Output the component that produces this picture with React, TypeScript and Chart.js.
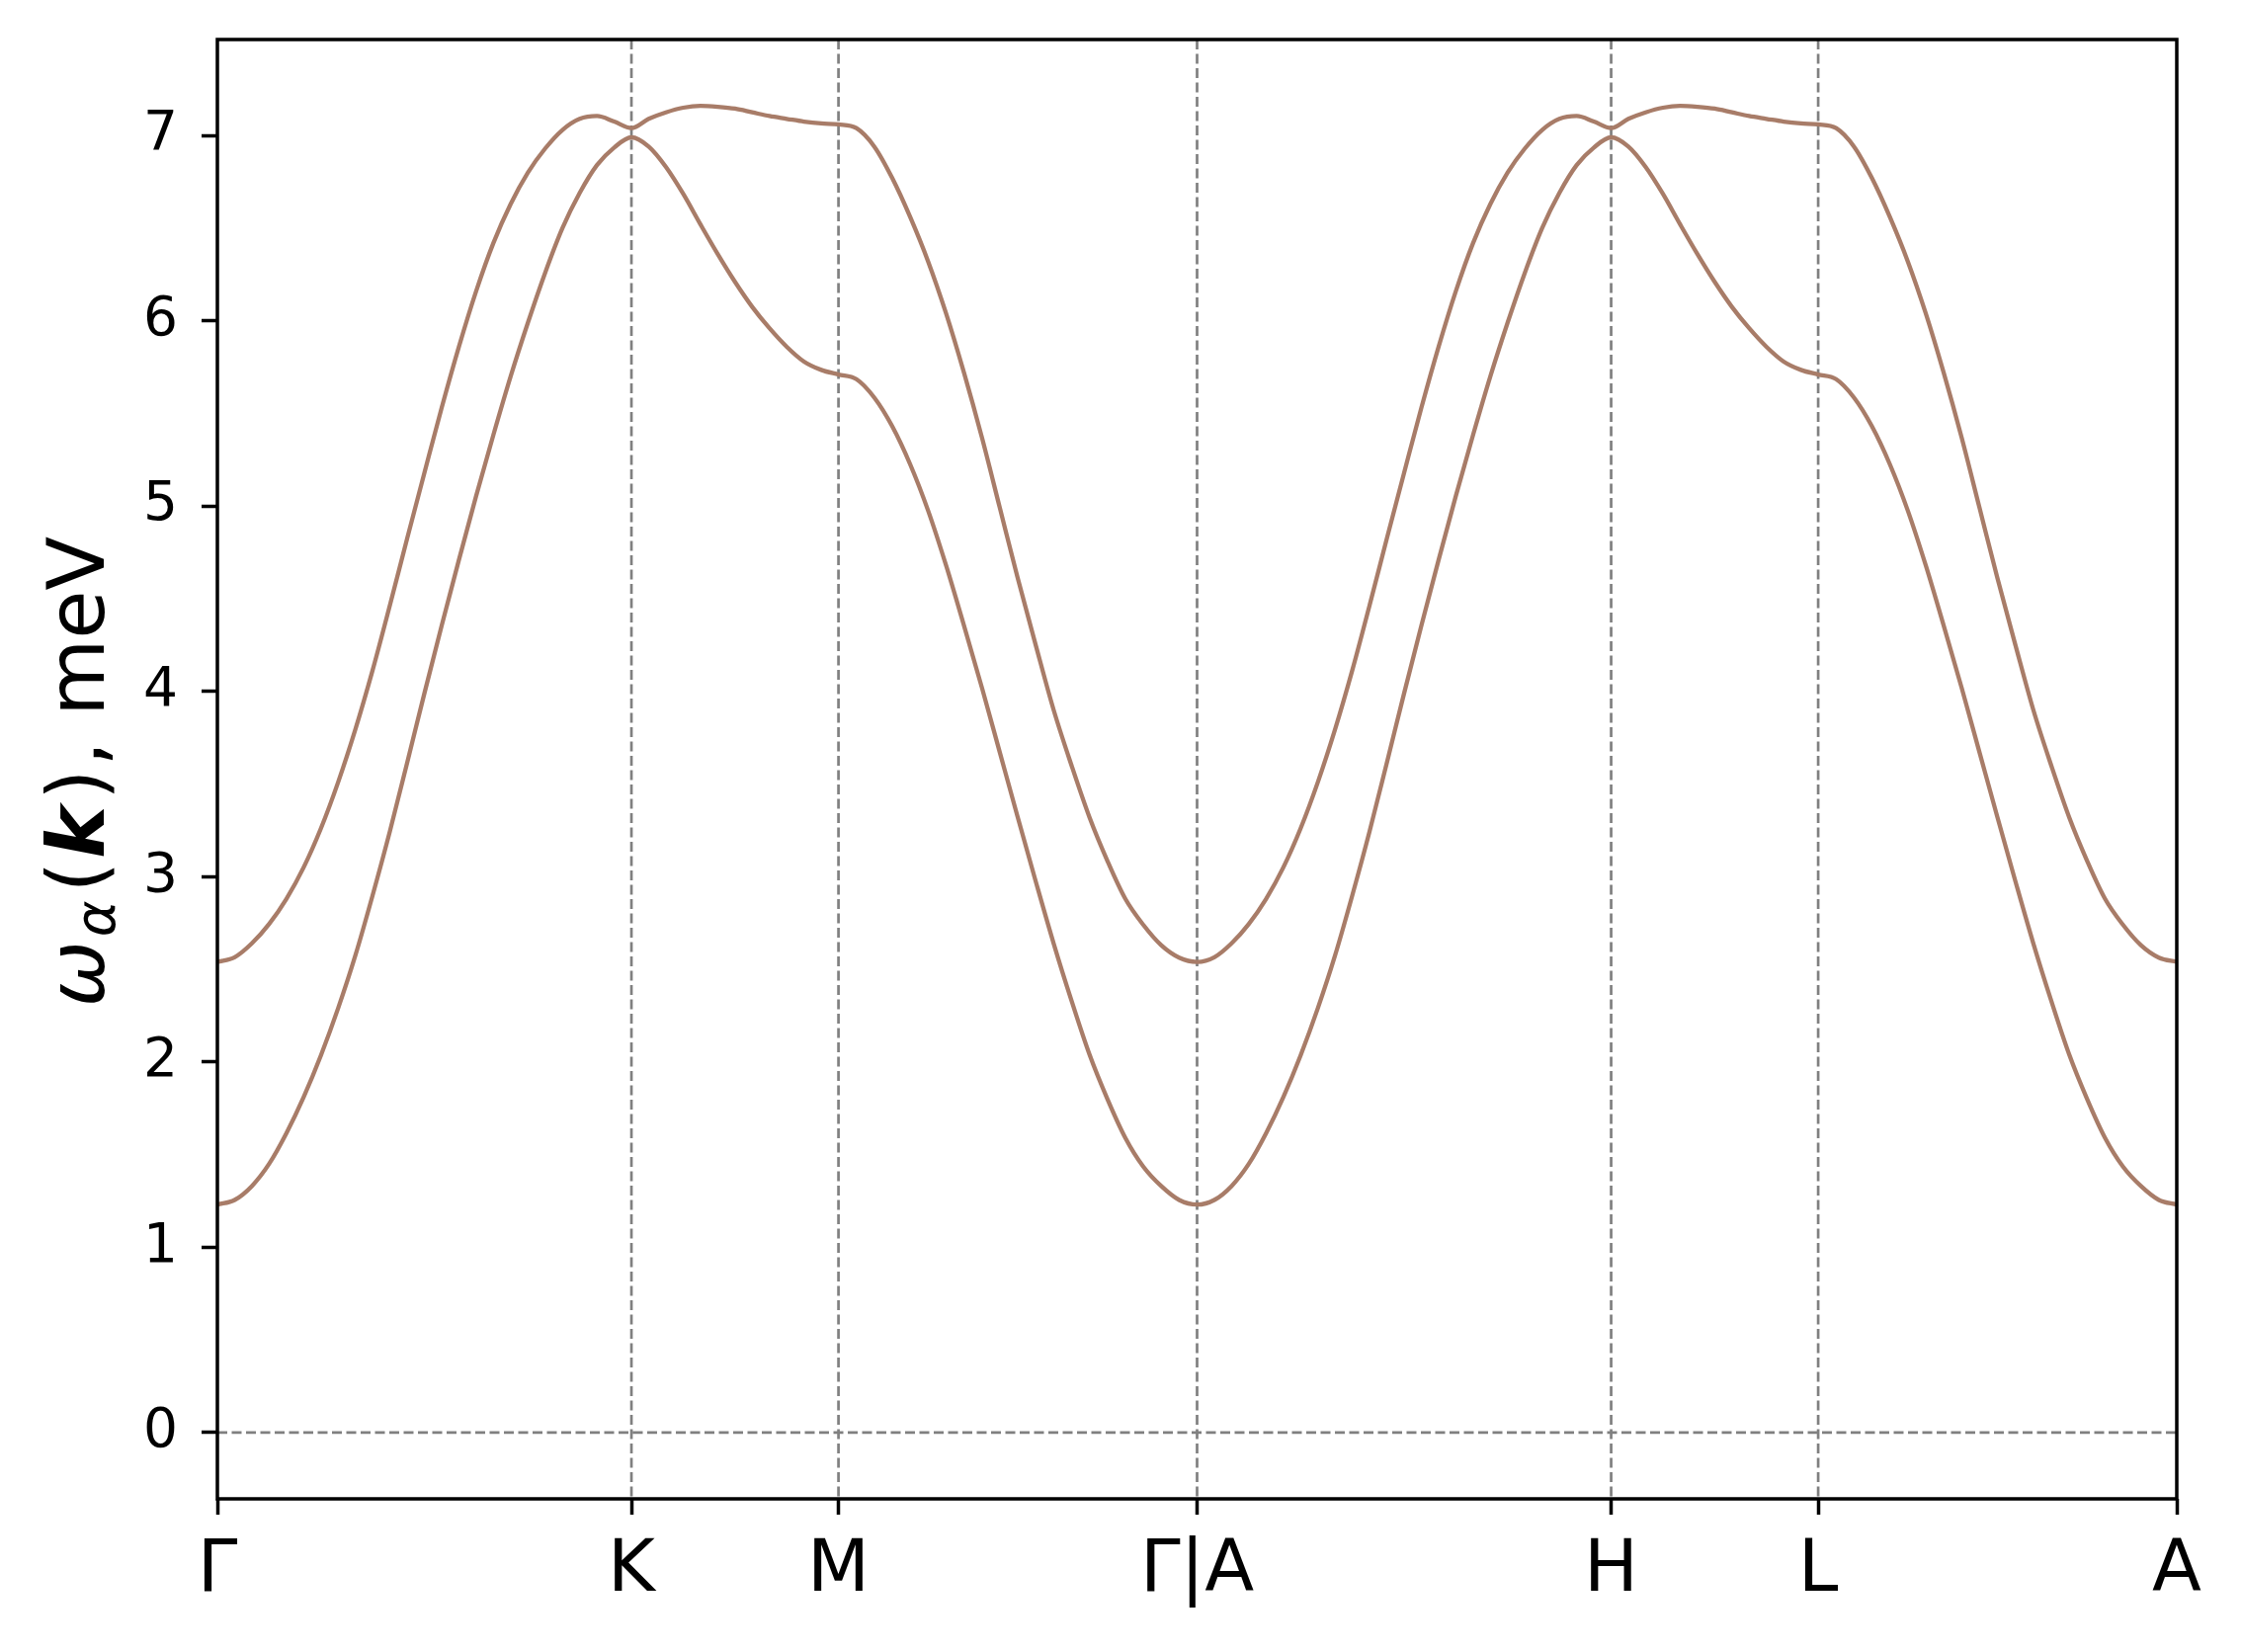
import React, { useEffect, useRef } from 'react';
import { Chart, registerables } from 'chart.js';

Chart.register(...registerables);

// High-symmetry path positions (cumulative path length) and labels
const symPositions = [0, 1.3333, 2.0, 3.1547, 4.488, 5.1547, 6.3094];
const symLabels = ['Γ', 'K', 'M', 'Γ|A', 'H', 'L', 'A'];
const yTickValues = [0, 1, 2, 3, 4, 5, 6, 7];

// Path coordinate, first half  Γ – K – M – Γ
const pathFirst = [
  0, 0.0556, 0.1111, 0.1667, 0.2222, 0.2778, 0.3333, 0.3889, 0.4444, 0.5, 0.5556, 0.6111, 0.6667,
  0.7222, 0.7778, 0.8333, 0.8889, 0.9444, 1.0, 1.0556, 1.1111, 1.1667, 1.2222, 1.2778, 1.3333,
  1.3889, 1.4444, 1.5, 1.5556, 1.6111, 1.6667, 1.7222, 1.7778, 1.8333, 1.8889, 1.9444, 2.0,
  2.0577, 2.1155, 2.1732, 2.2309, 2.2887, 2.3464, 2.4041, 2.4619, 2.5196, 2.5773, 2.6351, 2.6928,
  2.7505, 2.8083, 2.866, 2.9238, 2.9815, 3.0392, 3.097, 3.1547,
];
// Path coordinate, second half  A – H – L – A
const pathSecond = [
  3.2103, 3.2658, 3.3214, 3.3769, 3.4325, 3.488, 3.5436, 3.5991, 3.6547, 3.7103, 3.7658, 3.8214,
  3.8769, 3.9325, 3.988, 4.0436, 4.0991, 4.1547, 4.2103, 4.2658, 4.3214, 4.3769, 4.4325, 4.488,
  4.5436, 4.5991, 4.6547, 4.7103, 4.7658, 4.8214, 4.8769, 4.9325, 4.988, 5.0436, 5.0991, 5.1547,
  5.2124, 5.2702, 5.3279, 5.3856, 5.4434, 5.5011, 5.5588, 5.6166, 5.6743, 5.732, 5.7898, 5.8475,
  5.9052, 5.963, 6.0207, 6.0785, 6.1362, 6.1939, 6.2517, 6.3094,
];

// Upper magnon band (meV)
const upperFirst = [
  2.54, 2.565, 2.64, 2.745, 2.88, 3.05, 3.26, 3.51, 3.795, 4.115, 4.465, 4.825, 5.18,
  5.53, 5.86, 6.16, 6.42, 6.63, 6.8, 6.93, 7.03, 7.09, 7.105, 7.075, 7.04,
  7.09, 7.125, 7.15, 7.16, 7.155, 7.145, 7.125, 7.105, 7.09, 7.075, 7.065, 7.06,
  7.04, 6.94, 6.77, 6.56, 6.32, 6.04, 5.72, 5.37, 4.99, 4.61, 4.25, 3.9,
  3.6, 3.32, 3.085, 2.88, 2.74, 2.63, 2.563, 2.54,
];
const upperSecond = [
  2.565, 2.64, 2.745, 2.88, 3.05, 3.26, 3.51, 3.795, 4.115, 4.465, 4.825, 5.18,
  5.53, 5.86, 6.16, 6.42, 6.63, 6.8, 6.93, 7.03, 7.09, 7.105, 7.075, 7.04,
  7.09, 7.125, 7.15, 7.16, 7.155, 7.145, 7.125, 7.105, 7.09, 7.075, 7.065, 7.06,
  7.04, 6.94, 6.77, 6.56, 6.32, 6.04, 5.72, 5.37, 4.99, 4.61, 4.25, 3.9,
  3.6, 3.32, 3.085, 2.88, 2.74, 2.63, 2.563, 2.54,
];

// Lower magnon band (meV)
const lowerFirst = [
  1.23, 1.255, 1.33, 1.45, 1.615, 1.81, 2.035, 2.29, 2.575, 2.9, 3.245, 3.615, 3.99,
  4.355, 4.71, 5.055, 5.385, 5.7, 5.99, 6.26, 6.5, 6.69, 6.84, 6.935, 6.99,
  6.94, 6.83, 6.685, 6.52, 6.36, 6.21, 6.075, 5.96, 5.86, 5.78, 5.735, 5.71,
  5.685, 5.585, 5.43, 5.225, 4.975, 4.68, 4.355, 4.02, 3.67, 3.32, 2.975, 2.64,
  2.33, 2.04, 1.8, 1.59, 1.435, 1.33, 1.255, 1.23,
];
const lowerSecond = [
  1.255, 1.33, 1.45, 1.615, 1.81, 2.035, 2.29, 2.575, 2.9, 3.245, 3.615, 3.99,
  4.355, 4.71, 5.055, 5.385, 5.7, 5.99, 6.26, 6.5, 6.69, 6.84, 6.935, 6.99,
  6.94, 6.83, 6.685, 6.52, 6.36, 6.21, 6.075, 5.96, 5.86, 5.78, 5.735, 5.71,
  5.685, 5.585, 5.43, 5.225, 4.975, 4.68, 4.355, 4.02, 3.67, 3.32, 2.975, 2.64,
  2.33, 2.04, 1.8, 1.59, 1.435, 1.33, 1.255, 1.23,
];

const LINE_COLOR = '#a87c68';
const FONT = '"DejaVu Sans", "Liberation Sans", sans-serif';

const guidePlugin = {
  id: 'guides',
  beforeDatasetsDraw(chart: any) {
    const { ctx, chartArea, scales } = chart;
    const { left, right, top, bottom } = chartArea;
    ctx.save();
    ctx.strokeStyle = '#808080';
    ctx.lineWidth = 2.7;
    ctx.setLineDash([10, 4.5]);
    ctx.beginPath();
    symPositions.slice(1, -1).forEach((p) => {
      const px = scales.x.getPixelForValue(p);
      ctx.moveTo(px, top);
      ctx.lineTo(px, bottom);
    });
    const y0 = scales.y.getPixelForValue(0);
    ctx.moveTo(left, y0);
    ctx.lineTo(right, y0);
    ctx.stroke();
    ctx.restore();
  },
  afterDraw(chart: any) {
    const { ctx, chartArea } = chart;
    const { left, right, top, bottom } = chartArea;
    ctx.save();
    ctx.strokeStyle = '#000';
    ctx.lineWidth = 3.5;
    ctx.setLineDash([]);
    ctx.strokeRect(left, top, right - left, bottom - top);
    ctx.restore();
  },
};

const yLabelPlugin = {
  id: 'ylabel',
  afterDraw(chart: any) {
    const ctx = chart.ctx;
    const size = 80;
    const segs = [
      { t: 'ω', font: `italic ${size}px ${FONT}`, dy: 0, gap: 4 },
      { t: 'α', font: `italic ${Math.round(size * 0.7)}px ${FONT}`, dy: size * 0.14, gap: 8 },
      { t: '(', font: `${size}px ${FONT}`, dy: 0, gap: 3 },
      { t: 'k', font: `italic bold ${size}px ${FONT}`, dy: 0, gap: 6 },
      { t: ')', font: `${size}px ${FONT}`, dy: 0, gap: 3 },
      { t: ', meV', font: `${size}px ${FONT}`, dy: 0, gap: 0 },
    ];
    ctx.save();
    ctx.fillStyle = '#000';
    ctx.textAlign = 'left';
    ctx.textBaseline = 'alphabetic';
    const widths = segs.map((s) => {
      ctx.font = s.font;
      return ctx.measureText(s.t).width + s.gap;
    });
    const total = widths.reduce((a, b) => a + b, 0);
    ctx.translate(105, 781);
    ctx.rotate(-Math.PI / 2);
    let x = -total / 2;
    segs.forEach((s, i) => {
      ctx.font = s.font;
      ctx.fillText(s.t, x, s.dy);
      x += widths[i];
    });
    ctx.restore();
  },
};

export default function App() {
  const canvasRef = useRef<HTMLCanvasElement | null>(null);

  useEffect(() => {
    const canvas = canvasRef.current;
    if (!canvas) return;
    const path = [...pathFirst, ...pathSecond];
    const upper = [...upperFirst, ...upperSecond];
    const lower = [...lowerFirst, ...lowerSecond];
    const chart = new Chart(canvas, {
      type: 'scatter',
      data: {
        datasets: [
          {
            label: 'upper',
            data: path.map((x, i) => ({ x, y: upper[i] })),
            showLine: true,
            borderColor: LINE_COLOR,
            borderWidth: 4.3,
            pointRadius: 0,
            cubicInterpolationMode: 'monotone',
            fill: false,
          },
          {
            label: 'lower',
            data: path.map((x, i) => ({ x, y: lower[i] })),
            showLine: true,
            borderColor: LINE_COLOR,
            borderWidth: 4.3,
            pointRadius: 0,
            cubicInterpolationMode: 'monotone',
            fill: false,
          },
        ],
      },
      options: {
        responsive: false,
        animation: false,
        devicePixelRatio: 1,
        layout: { padding: { top: 40, right: 65, bottom: 0, left: 0 } },
        plugins: { legend: { display: false }, tooltip: { enabled: false } },
        scales: {
          x: {
            type: 'linear',
            min: 0,
            max: 6.3094,
            afterBuildTicks: (scale: any) => {
              scale.ticks = symPositions.map((v) => ({ value: v }));
            },
            afterFit: (scale: any) => {
              scale.height = 155;
              scale.paddingLeft = 0;
              scale.paddingRight = 0;
            },
            ticks: {
              autoSkip: false,
              maxRotation: 0,
              minRotation: 0,
              padding: 14,
              color: '#000',
              font: { family: FONT, size: 73 },
              callback: (_v: any, i: number) => symLabels[i],
            },
            grid: {
              drawOnChartArea: false,
              drawTicks: true,
              tickLength: 16,
              tickWidth: 3.5,
              tickColor: '#000',
              color: '#000',
            },
            border: { display: false },
          },
          y: {
            type: 'linear',
            min: -0.358,
            max: 7.518,
            afterBuildTicks: (scale: any) => {
              scale.ticks = yTickValues.map((v) => ({ value: v }));
            },
            afterFit: (scale: any) => {
              scale.width = 220;
              scale.paddingTop = 0;
              scale.paddingBottom = 0;
            },
            ticks: {
              padding: 24,
              color: '#000',
              font: { family: FONT, size: 55 },
              callback: (v: any) => String(v),
            },
            grid: {
              drawOnChartArea: false,
              drawTicks: true,
              tickLength: 16,
              tickWidth: 3.5,
              tickColor: '#000',
              color: '#000',
            },
            border: { display: false },
          },
        },
      },
      plugins: [guidePlugin, yLabelPlugin],
    } as any);
    return () => chart.destroy();
  }, []);

  return (
    <div style={{ position: 'fixed', left: 0, top: 0, width: 2268, height: 1672, background: '#fff' }}>
      <canvas ref={canvasRef} width={2268} height={1672} style={{ display: 'block' }} />
    </div>
  );
}
